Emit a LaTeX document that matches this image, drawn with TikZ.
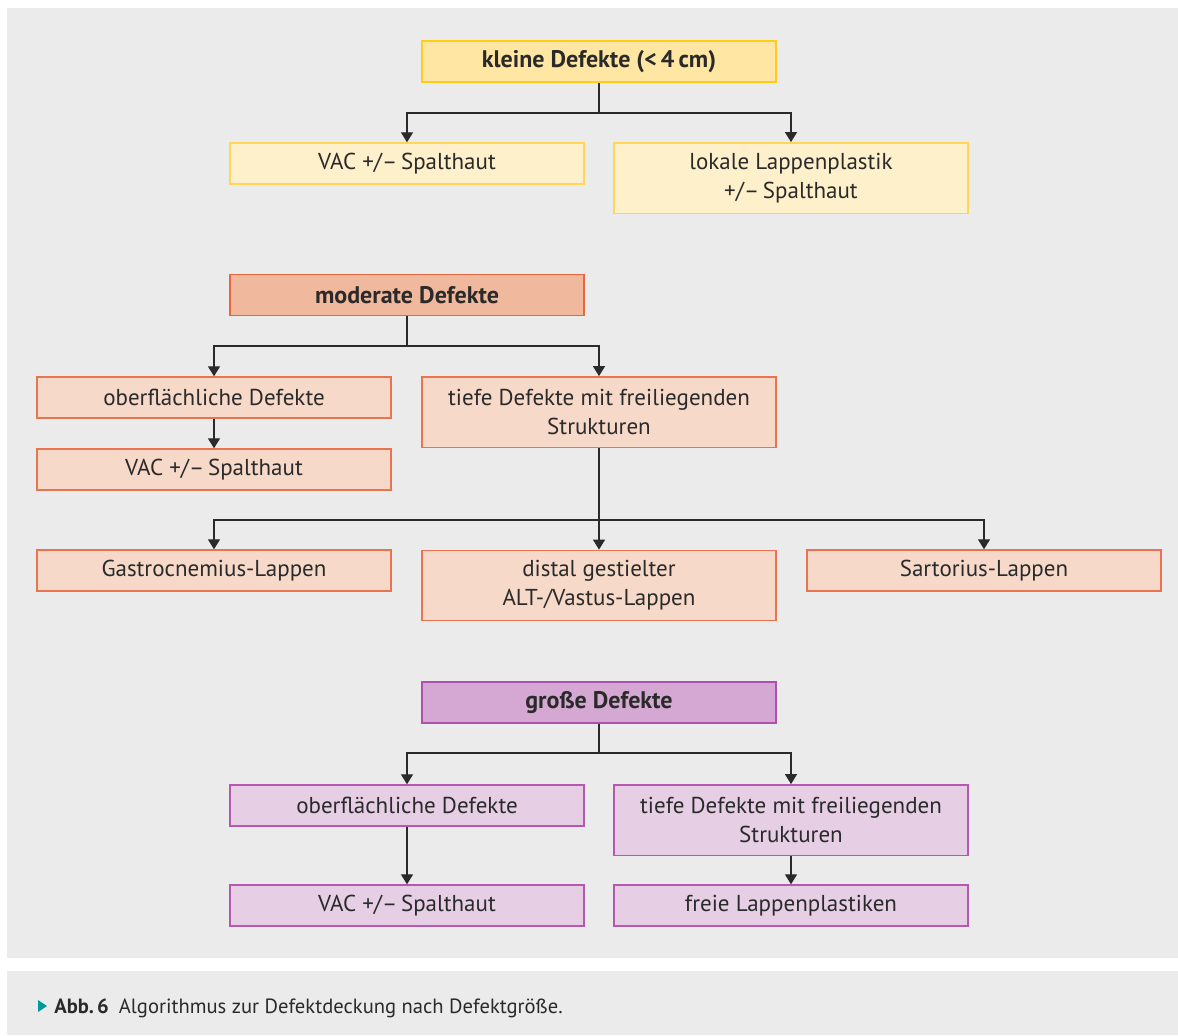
\documentclass[tikz,border=0pt]{standalone}
\usepackage{fontspec}
\setmainfont{PT Sans}
\usetikzlibrary{arrows.meta}
\definecolor{bggrey}{HTML}{EAEBEA}
\definecolor{yhf}{HTML}{FFE6A3}
\definecolor{yhd}{HTML}{FFCC1A}
\definecolor{ylf}{HTML}{FFF0CC}
\definecolor{yld}{HTML}{FFD659}
\definecolor{ohf}{HTML}{F0B89C}
\definecolor{ohd}{HTML}{E8673F}
\definecolor{olf}{HTML}{F6D9C8}
\definecolor{old}{HTML}{E87450}
\definecolor{phf}{HTML}{D4A8D2}
\definecolor{phd}{HTML}{B050AE}
\definecolor{plf}{HTML}{E6CFE5}
\definecolor{pld}{HTML}{B458B2}
\definecolor{txt}{HTML}{2A2A2A}
\definecolor{teal}{HTML}{00999A}
\tikzset{
  bx/.style={rectangle, minimum width=177pt, minimum height=20.5pt, inner sep=0pt,
    align=center, line width=0.7pt, text=txt, font=\fontsize{11.5}{14.5}\selectfont},
  bx2/.style={bx, minimum height=35.2pt},
  hdr/.style={font=\fontsize{12}{14.5}\selectfont\bfseries},
  yh/.style={fill=yhf, draw=yhd}, yl/.style={fill=ylf, draw=yld},
  oh/.style={fill=ohf, draw=ohd}, ol/.style={fill=olf, draw=old},
  ph/.style={fill=phf, draw=phd}, pl/.style={fill=plf, draw=pld},
  ln/.style={line width=0.65pt, draw=txt},
  arr/.style={ln, -{Triangle[length=5pt, width=6pt]}},
}
\begin{document}
\begin{tikzpicture}[x=0.5pt, y=-0.5pt]
\useasboundingbox (0,0) rectangle (1178,1035);
\fill[white] (0,0) rectangle (1178,1035);
\fill[bggrey] (7,8) rectangle (1178,958);
\fill[bggrey] (7,971) rectangle (1178,1035);

% kleine Defekte
\node[bx, yh, hdr] (kl) at (599,61.5) {kleine Defekte (<\,4\,cm)};
\node[bx, yl] (vac1) at (407,163.5) {VAC +/–\,Spalthaut};
\node[bx2, yl] (lok) at (791,178) {lokale Lappenplastik\\+/–\,Spalthaut};

% moderate
\node[bx, oh, hdr] (mod) at (407,295) {moderate Defekte};
\node[bx, ol] (ob1) at (214,397.5) {oberflächliche Defekte};
\node[bx2, ol] (tf1) at (599,412) {tiefe Defekte mit freiliegenden\\Strukturen};
\node[bx, ol] (vac2) at (214,469.5) {VAC +/–\,Spalthaut};
\node[bx, ol] (gas) at (214,570.5) {Gastrocnemius-Lappen};
\node[bx2, ol] (dis) at (599,585.5) {distal gestielter\\ALT-/Vastus-Lappen};
\node[bx, ol] (sar) at (984,570.5) {Sartorius-Lappen};

% grosse
\node[bx, ph, hdr] (gr) at (599,702.5) {große Defekte};
\node[bx, pl] (ob2) at (407,805.5) {oberflächliche Defekte};
\node[bx2, pl] (tf2) at (791,820) {tiefe Defekte mit freiliegenden\\Strukturen};
\node[bx, pl] (vac3) at (407,905.5) {VAC +/–\,Spalthaut};
\node[bx, pl] (fr) at (791,905.5) {freie Lappenplastiken};

% connectors
\draw[ln] (kl.south) -- (599,113) coordinate (k1);
\draw[arr] (k1) -| (vac1.north);
\draw[arr] (k1) -| (lok.north);

\draw[ln] (mod.south) -- (407,346) coordinate (m1);
\draw[arr] (m1) -| (ob1.north);
\draw[arr] (m1) -| (tf1.north);
\draw[arr] (ob1.south) -- (vac2.north);
\draw[ln] (tf1.south) -- (599,520) coordinate (m2);
\draw[arr] (m2) -| (gas.north);
\draw[arr] (m2) -- (dis.north);
\draw[arr] (m2) -| (sar.north);

\draw[ln] (gr.south) -- (599,753) coordinate (g1);
\draw[arr] (g1) -| (ob2.north);
\draw[arr] (g1) -| (tf2.north);
\draw[arr] (ob2.south) -- (vac3.north);
\draw[arr] (tf2.south) -- (fr.north);

% caption
\fill[teal] (38,1000) -- (47,1006) -- (38,1012) -- cycle;
\node[anchor=base west, inner sep=0pt, text=txt, font=\fontsize{10.3}{12}\selectfont] (cap) at (54,1013)
  {\textbf{Abb.\,6}\hspace{5pt}Algorithmus zur Defektdeckung nach Defektgröße.};
\end{tikzpicture}
\end{document}
